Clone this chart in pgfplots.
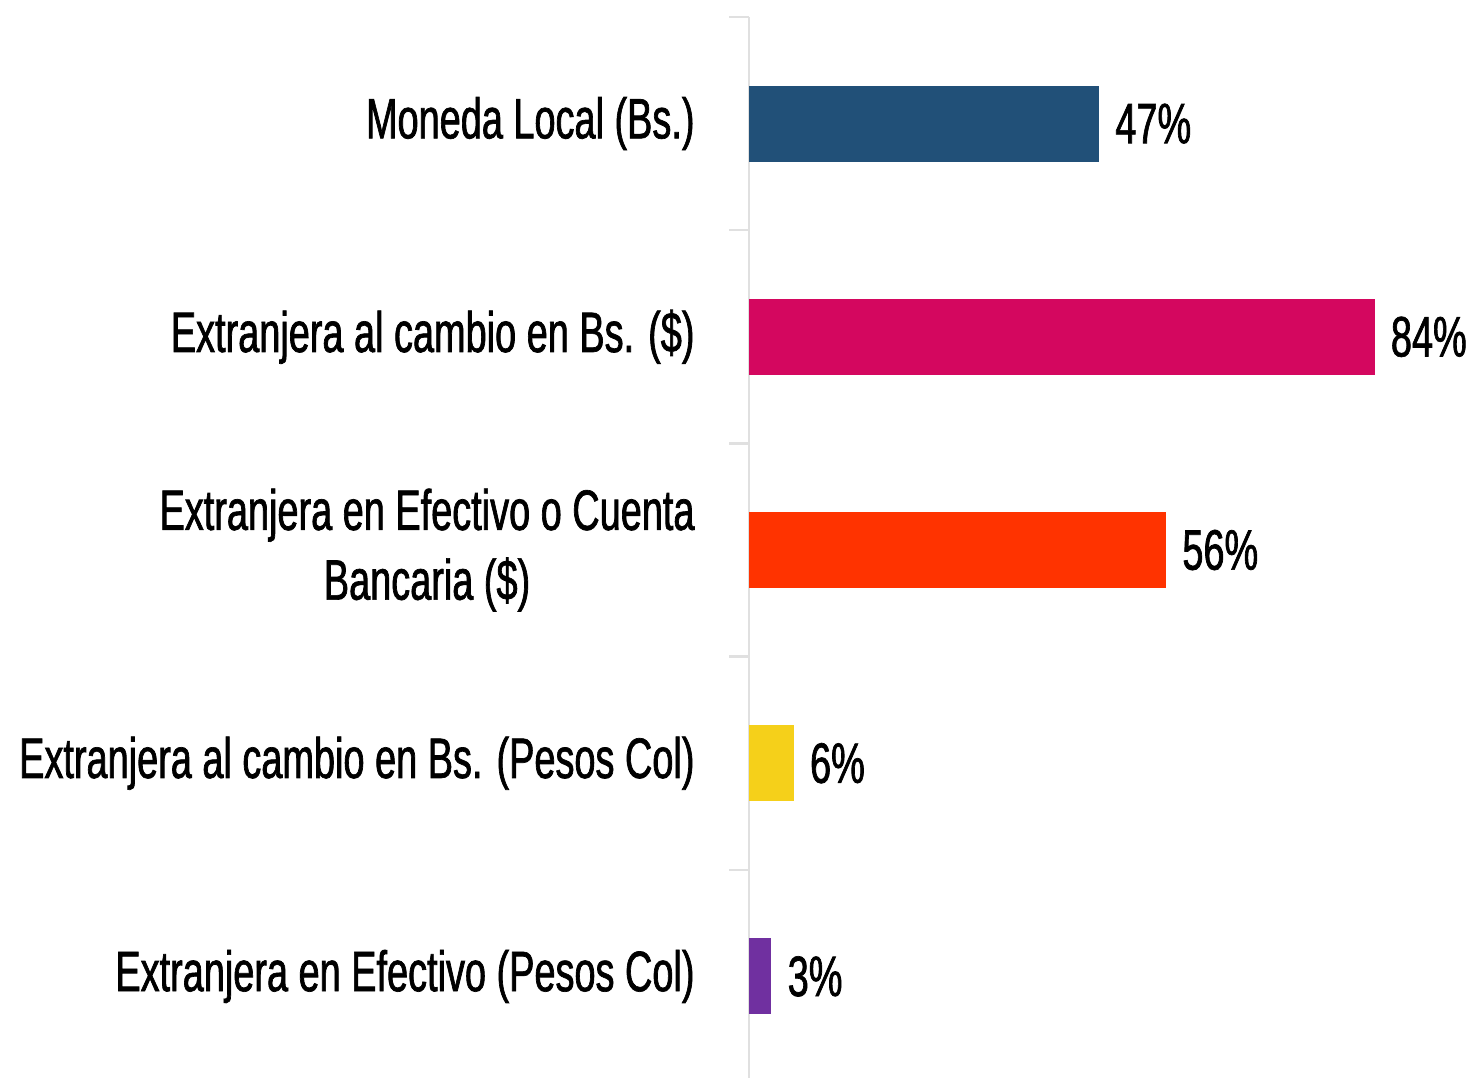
\documentclass[border=0pt]{standalone}
\usepackage{fontspec}
\setmainfont{Liberation Sans}[FakeStretch=0.665, FakeBold=1.2]
\usepackage{pgfplots}
\pgfplotsset{compat=1.18}
\definecolor{cBlue}{HTML}{215078}
\definecolor{cMag}{HTML}{D4075F}
\definecolor{cRed}{HTML}{FF3300}
\definecolor{cYel}{HTML}{F5D01A}
\definecolor{cPur}{HTML}{7030A0}
\definecolor{axgray}{HTML}{E0E0E0}
\begin{document}
\begin{tikzpicture}
\begin{axis}[
    at={(0,0)}, anchor=north west,
    scale only axis,
    width=364.5bp, height=533bp,
    xmin=0, xmax=97.9,
    ymin=-0.5, ymax=4.5,
    y dir=reverse,
    hide x axis,
    axis y line*=left,
    axis line style={-, draw=axgray, line width=1.2bp},
    ytick={0,1,2,3,4},
    yticklabels={Moneda Local (Bs.),
                 Extranjera al cambio en Bs. (\$),
                 {Extranjera en Efectivo o Cuenta\\Bancaria (\$)},
                 Extranjera al cambio en Bs. (Pesos Col),
                 Extranjera en Efectivo (Pesos Col)},
    major tick length=0pt,
    yticklabel style={font=\fontsize{28.6}{35}\selectfont, align=center, anchor=east, inner sep=0pt, xshift=-27bp},
    extra y ticks={-0.5,0.5,1.5,2.5,3.5},
    extra y tick labels={},
    extra y tick style={major tick length=10bp, tick align=outside, tick style={draw=axgray, line width=1.2bp}},
    xbar, bar shift=0pt, bar width=0.356,
    point meta=explicit symbolic,
    nodes near coords,
    nodes near coords style={font=\fontsize{28.6}{35}\selectfont, black, anchor=west, inner sep=0pt, xshift=8bp},
    clip=false,
]
\addplot[fill=cBlue, draw=none] coordinates {(47,0) [47\%]};
\addplot[fill=cMag, draw=none] coordinates {(84,1) [84\%]};
\addplot[fill=cRed, draw=none] coordinates {(56,2) [56\%]};
\addplot[fill=cYel, draw=none] coordinates {(6,3) [6\%]};
\addplot[fill=cPur, draw=none] coordinates {(3,4) [3\%]};
\end{axis}
\pgfresetboundingbox
\path (-374.5bp,8.5bp) rectangle (364.5bp,-530.5bp);
\end{tikzpicture}
\end{document}
